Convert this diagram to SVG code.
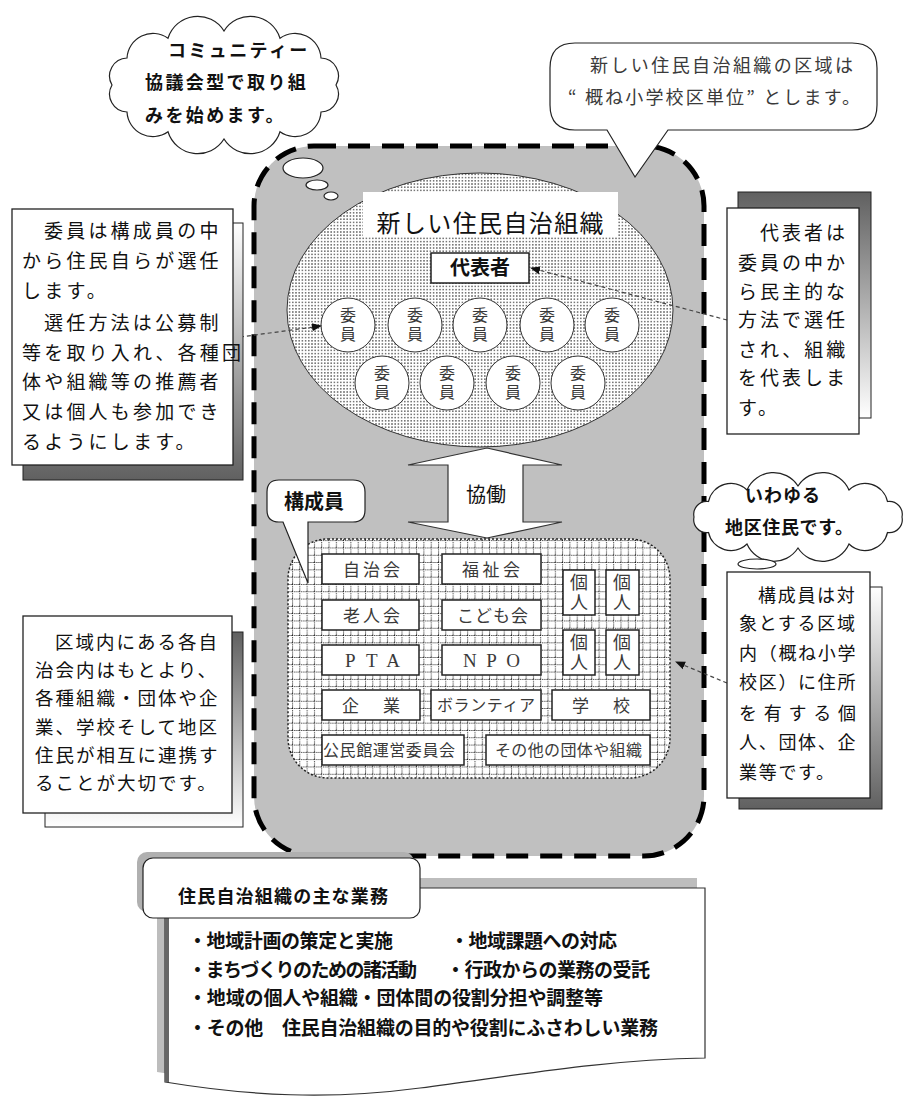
<svg xmlns="http://www.w3.org/2000/svg" width="915" height="1099" viewBox="0 0 915 1099">
<style>
.t{font-family:"Noto Sans CJK JP","Noto Sans CJK SC",sans-serif;fill:#111}
.b{font-weight:bold}
.m{fill:#3a3a3a}
.v{writing-mode:vertical-rl;text-anchor:middle}
.box{fill:#fff;stroke:#222;stroke-width:1.3}
.sh{stroke:#222;stroke-width:1}
.lb{fill:#fff;stroke:#222;stroke-width:1.5}
.cir{fill:#fff;stroke:#333;stroke-width:1}
.con{fill:none;stroke:#444;stroke-width:1.2;stroke-dasharray:4 3}
.bub{fill:#fff;stroke:#222;stroke-width:1.2}
</style>
<defs>
<linearGradient id="gWD" x1="0" y1="0" x2="0" y2="1"><stop offset="0" stop-color="#fff"/><stop offset="1" stop-color="#606060"/></linearGradient>
<linearGradient id="gDW" x1="0" y1="0" x2="0" y2="1"><stop offset="0" stop-color="#606060"/><stop offset="1" stop-color="#fff"/></linearGradient>
<pattern id="dots" width="3.2" height="3.2" patternUnits="userSpaceOnUse"><rect width="3.2" height="3.2" fill="#fff"/><rect x="1" y="1" width="1.2" height="1.2" fill="#111"/></pattern>
<pattern id="grid" width="7.3" height="7.3" patternUnits="userSpaceOnUse"><rect width="7.3" height="7.3" fill="#fff"/><path d="M0,0.5 H7.3 M0.5,0 V7.3" stroke="#111" stroke-width="1" stroke-dasharray="1 1" fill="none"/></pattern>
<marker id="ah" viewBox="0 0 10 10" refX="9" refY="5" markerWidth="10" markerHeight="10" markerUnits="userSpaceOnUse" orient="auto"><path d="M0,1 L10,5 L0,9 Z" fill="#111"/></marker>
</defs>
<rect width="915" height="1099" fill="#fff"/>

<g id="area">
<rect x="254" y="146" width="450" height="710" rx="60" fill="#c0c0c0" stroke="#000" stroke-width="5" stroke-dasharray="22 12"/>
</g>

<g id="org">
<ellipse cx="480" cy="310" rx="193" ry="137" fill="url(#dots)" stroke="#333" stroke-width="1"/>
<rect x="363" y="192" width="255" height="45" fill="#fff"/>
<text class="t" x="490" y="232" font-size="24" text-anchor="middle" textLength="227">新しい住民自治組織</text>
</g>

<g id="daihyo">
<rect x="431" y="253" width="98" height="30" class="lb"/>
<text class="t b" x="480" y="275" font-size="20" text-anchor="middle">代表者</text>
</g>

<g id="iin">
<g class="cir">
<circle cx="348" cy="325" r="27"/><circle cx="415" cy="325" r="27"/><circle cx="480" cy="325" r="27"/><circle cx="547" cy="325" r="27"/><circle cx="612" cy="325" r="27"/>
<circle cx="382" cy="383" r="27"/><circle cx="447" cy="383" r="27"/><circle cx="513" cy="383" r="27"/><circle cx="578" cy="383" r="27"/>
</g>
<g class="t m v" font-size="16" letter-spacing="3">
<text x="348" y="326">委員</text>
<text x="415" y="326">委員</text>
<text x="480" y="326">委員</text>
<text x="547" y="326">委員</text>
<text x="612" y="326">委員</text>
<text x="382" y="384">委員</text>
<text x="447" y="384">委員</text>
<text x="513" y="384">委員</text>
<text x="578" y="384">委員</text>
</g>
</g>

<g id="kyodo">
<polygon points="487,448 562,465 523,465 523,522 562,522 487,538 408,522 448,522 448,465 408,465" fill="#fff" stroke="#333" stroke-width="1.2"/>
<text class="t" x="486" y="502" font-size="20" text-anchor="middle">協働</text>
</g>

<g id="members">
<rect x="288" y="539" width="382" height="239" rx="40" fill="url(#grid)" stroke="#222" stroke-width="1.5" stroke-dasharray="2 2"/>
<g class="lb">
<rect x="322" y="554" width="97" height="30"/><rect x="442" y="554" width="99" height="30"/>
<rect x="322" y="600" width="97" height="30"/><rect x="442" y="600" width="99" height="30"/>
<rect x="322" y="645" width="97" height="30"/><rect x="442" y="645" width="99" height="30"/>
<rect x="322" y="690" width="98" height="30"/><rect x="431" y="690" width="110" height="30"/><rect x="552" y="690" width="98" height="30"/>
<rect x="322" y="735" width="142" height="30"/><rect x="486" y="735" width="164" height="30"/>
<rect x="563" y="570" width="32" height="45"/><rect x="606" y="570" width="33" height="45"/>
<rect x="563" y="630" width="32" height="45"/><rect x="606" y="630" width="33" height="45"/>
</g>
<g class="t m" font-size="17">
<text x="343" y="576" textLength="57">自治会</text>
<text x="462" y="576" textLength="58">福祉会</text>
<text x="343" y="622" textLength="57">老人会</text>
<text x="457" y="622" textLength="71">こども会</text>
<text x="345" y="667" font-family="Liberation Serif" font-size="19" textLength="55">PTA</text>
<text x="463" y="667" font-family="Liberation Serif" font-size="19" textLength="57">NPO</text>
<text x="342" y="712" textLength="58">企業</text>
<text x="437" y="711" font-size="16" textLength="98">ボランティア</text>
<text x="572" y="712" textLength="58">学校</text>
<text x="323" y="756" font-size="16" textLength="132">公民館運営委員会</text>
<text x="495" y="756" font-size="16" textLength="147">その他の団体や組織</text>
<g class="v" font-size="18" letter-spacing="2">
<text x="579" y="593">個人</text>
<text x="622" y="593">個人</text>
<text x="579" y="653">個人</text>
<text x="622" y="653">個人</text>
</g>
</g>
</g>

<g id="koseiin-label">
<path d="M279,480 H353 Q365,480 365,492 V510 Q365,522 353,522 H308 L308,583 L283,522 H279 Q267,522 267,510 V492 Q267,480 279,480 Z" class="bub"/>
<text class="t b" x="314" y="509" font-size="20" text-anchor="middle">構成員</text>
</g>

<g id="cloud-community">
<path class="bub" d="M336,85 A18,18 0 0,1 321,112 A26,26 0 0,1 280,131.8 A31,31 0 0,1 224,139 A31,31 0 0,1 168,131.8 A26,26 0 0,1 127,112 A18,18 0 0,1 112,85 A18,18 0 0,1 127,58 A26,26 0 0,1 168,38.2 A31,31 0 0,1 224,31 A31,31 0 0,1 280,38.2 A26,26 0 0,1 321,58 A18,18 0 0,1 336,85 Z"/>
<ellipse cx="303" cy="168" rx="20" ry="10" class="bub"/>
<ellipse cx="317" cy="185" rx="11" ry="5" class="bub"/>
<ellipse cx="331" cy="196" rx="7" ry="4" class="bub"/>
<g class="t b" font-size="18" letter-spacing="2.4">
<text x="168" y="57">コミュニティー</text>
<text x="145" y="89">協議会型で取り組</text>
<text x="145" y="122">みを始めます。</text>
</g>
</g>

<g id="callout-area">
<path class="bub" d="M575,43 H852 Q877,43 877,68 V105 Q877,130 852,130 H668 L635,177 L607,130 H575 Q550,130 550,105 V68 Q550,43 575,43 Z"/>
<g class="t m" font-size="18">
<text x="590" y="72" textLength="263">新しい住民自治組織の区域は</text>
<text x="568" y="104" textLength="292">“ 概ね小学校区単位” とします。</text>
</g>
</g>

<g id="cloud-residents">
<path class="bub" d="M902,517 A13,13 0 0,1 887.5,532.5 A23,23 0 0,1 849,544 A29,29 0 0,1 798,548 A29,29 0 0,1 747,544 A23,23 0 0,1 708.5,532.5 A13,13 0 0,1 694,517 A13,13 0 0,1 708.5,501.5 A23,23 0 0,1 747,490 A29,29 0 0,1 798,486 A29,29 0 0,1 849,490 A23,23 0 0,1 887.5,501.5 A13,13 0 0,1 902,517 Z"/>
<ellipse cx="757" cy="564" rx="19" ry="5" class="bub"/>
<ellipse cx="744" cy="577" rx="11" ry="4" class="bub"/>
<ellipse cx="739" cy="586" rx="6" ry="3" class="bub"/>
<g class="t b" font-size="18">
<text x="745" y="502" textLength="75">いわゆる</text>
<text x="725" y="534" textLength="128">地区住民です。</text>
</g>
</g>

<g id="connectors">
<path class="con" d="M233,338 L321,326" marker-end="url(#ah)"/>
<path class="con" d="M727,320 L531,268" marker-end="url(#ah)"/>
<path class="con" d="M727,683 L676,662" marker-end="url(#ah)"/>
</g>

<g id="note-iin">
<rect x="23" y="223" width="220" height="257" fill="url(#gWD)" class="sh"/>
<rect x="12" y="209" width="221" height="256" class="box"/>
<g class="t" font-size="19" letter-spacing="3.2">
<text x="44" y="238">委員は構成員の中</text>
<text x="22" y="268">から住民自らが選任</text>
<text x="22" y="298">します。</text>
<text x="44" y="330">選任方法は公募制</text>
<text x="22" y="360">等を取り入れ、各種団</text>
<text x="22" y="389">体や組織等の推薦者</text>
<text x="22" y="419">又は個人も参加でき</text>
<text x="22" y="449">るようにします。</text>
</g>
</g>

<g id="note-daihyo">
<rect x="738" y="192" width="133" height="226" fill="url(#gDW)" class="sh"/>
<rect x="727" y="208" width="132" height="226" class="box"/>
<g class="t" font-size="19" letter-spacing="3">
<text x="760" y="240">代表者は</text>
<text x="738" y="270">委員の中か</text>
<text x="738" y="299">ら民主的な</text>
<text x="738" y="327">方法で選任</text>
<text x="738" y="357">され、組織</text>
<text x="738" y="385">を代表しま</text>
<text x="738" y="415">す。</text>
</g>
</g>

<g id="note-renkei">
<rect x="45" y="632" width="198" height="195" fill="url(#gDW)" class="sh"/>
<rect x="23" y="616" width="209" height="197" class="box"/>
<g class="t" font-size="18.5" letter-spacing="2">
<text x="55" y="649">区域内にある各自</text>
<text x="35" y="677">治会内はもとより、</text>
<text x="35" y="705">各種組織・団体や企</text>
<text x="35" y="734">業、学校そして地区</text>
<text x="35" y="762">住民が相互に連携す</text>
<text x="35" y="790">ることが大切です。</text>
</g>
</g>

<g id="note-koseiin">
<rect x="739" y="587" width="143" height="222" fill="url(#gWD)" class="sh"/>
<rect x="727" y="572" width="143" height="226" class="box"/>
<g class="t" font-size="18" letter-spacing="1.7">
<text x="758" y="602">構成員は対</text>
<text x="739" y="630">象とする区域</text>
<text x="739" y="660">内（概ね小学</text>
<text x="739" y="689">校区）に住所</text>
<text x="739" y="720" letter-spacing="0" textLength="117">を有する個</text>
<text x="739" y="749">人、団体、企</text>
<text x="739" y="779">業等です。</text>
</g>
</g>

<g id="duties">
<path d="M157,878 H697 V1048 C592,1050 512,1065 412,1078 C322,1090 242,1086 157,1072 Z" fill="#bdbdbd"/>
<rect x="137" y="852" width="277" height="60" rx="10" fill="#b0b0b0"/>
<path d="M165,888 H705 V1058 C600,1060 520,1075 420,1088 C330,1100 250,1096 165,1082 Z" fill="#fff" stroke="#333" stroke-width="1.2"/>
<path d="M167,918 V1082" stroke="#666" stroke-width="4"/>
<rect x="143" y="858" width="277" height="60" rx="10" fill="#fff" stroke="#222" stroke-width="1.2"/>
<text class="t b" x="178" y="903" font-size="18" textLength="210">住民自治組織の主な業務</text>
<g class="t b" font-size="19">
<text x="188" y="948" textLength="205">・地域計画の策定と実施</text>
<text x="450" y="948" textLength="167">・地域課題への対応</text>
<text x="188" y="977" textLength="229">・まちづくりのための諸活動</text>
<text x="446" y="977" textLength="204">・行政からの業務の受託</text>
<text x="188" y="1005" textLength="415">・地域の個人や組織・団体間の役割分担や調整等</text>
<text x="188" y="1035" textLength="470">・その他　住民自治組織の目的や役割にふさわしい業務</text>
</g>
</g>
</svg>
